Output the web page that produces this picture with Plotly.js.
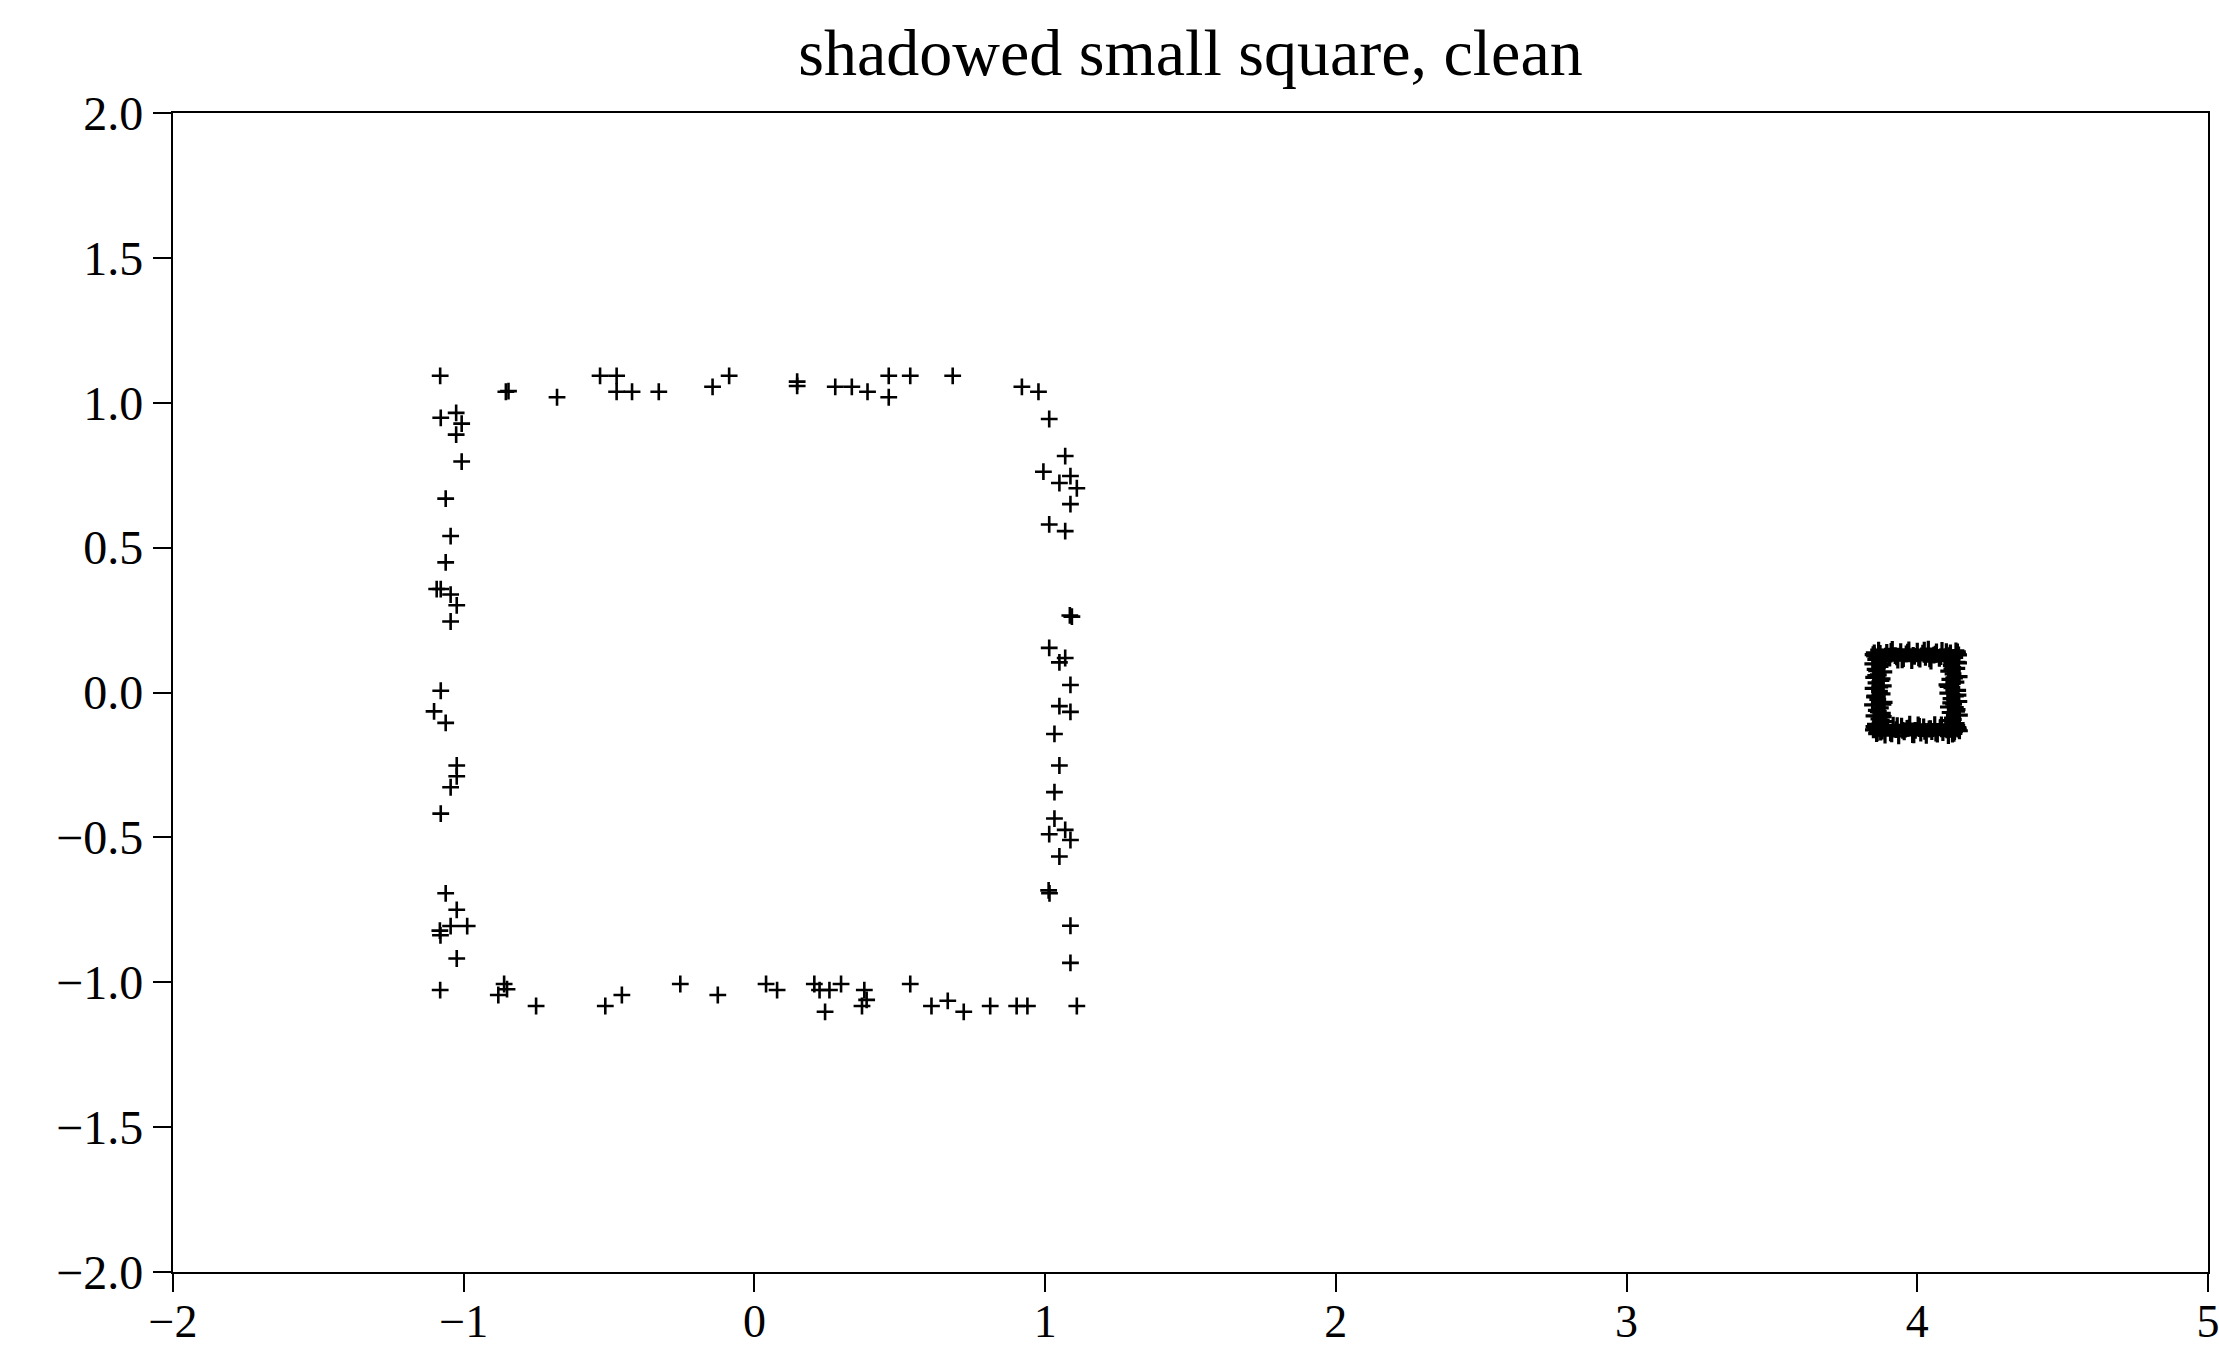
<!DOCTYPE html>
<html>
<head>
<meta charset="utf-8">
<script src="https://cdn.plot.ly/plotly-3.0.1.min.js"></script>
<style>html,body{margin:0;padding:0;background:#fff;}#chart{width:2219px;height:1352px;}</style>
</head>
<body>
<div id="chart"></div>
<script>
// Large square (sparse, noisy points)
const bigX = [
  -1.081, -0.855, -0.846, -0.679, -0.531, -0.474, -0.474, -0.421, -0.329, -0.144, -0.087,
  0.147, 0.147, 0.278, 0.335, 0.389, 0.462, 0.462, 0.536, 0.682, 0.920, 0.977,
  1.014, 1.069, 0.994, 1.049, 1.087, 1.109, 1.087, 1.014, 1.069, 1.085, 1.092, 1.014,
  1.049, 1.069, 1.087, 1.049, 1.087, 1.032, 1.049, 1.032, 1.032, 1.014, 1.069, 1.087,
  1.049, 1.012, 1.015, 1.087, 1.087, 1.109,
  0.902, 0.939, -1.081, -0.861, -0.851, -0.881, -0.751, -0.513, -0.456, -0.255, -0.126,
  0.040, 0.078, 0.206, 0.224, 0.258, 0.298, 0.243, 0.378, 0.386, 0.370, 0.536, 0.609,
  0.665, 0.720, 0.811,
  -1.079, -1.026, -1.007, -1.026, -1.007, -1.062, -1.045, -1.062, -1.093, -1.079, -1.045,
  -1.024, -1.045, -1.079, -1.102, -1.062, -1.024, -1.024, -1.045, -1.079, -1.062, -1.024,
  -1.045, -0.988, -1.082, -1.080, -1.024
];
const bigY = [
  1.093, 1.038, 1.040, 1.019, 1.093, 1.093, 1.038, 1.038, 1.038, 1.055, 1.093,
  1.073, 1.058, 1.055, 1.055, 1.038, 1.093, 1.019, 1.093, 1.093, 1.055, 1.038,
  0.944, 0.816, 0.762, 0.723, 0.747, 0.705, 0.650, 0.580, 0.557, 0.266, 0.262, 0.154,
  0.104, 0.119, 0.026, -0.047, -0.067, -0.143, -0.252, -0.344, -0.435, -0.489, -0.474, -0.509,
  -0.566, -0.683, -0.693, -0.805, -0.933, -1.082,
  -1.082, -1.082, -1.027, -1.006, -1.024, -1.044, -1.082, -1.082, -1.044, -1.006, -1.044,
  -1.006, -1.027, -1.006, -1.027, -1.027, -1.006, -1.102, -1.027, -1.061, -1.082, -1.006, -1.082,
  -1.064, -1.102, -1.082,
  0.948, 0.965, 0.928, 0.890, 0.797, 0.669, 0.540, 0.449, 0.357, 0.357, 0.338,
  0.301, 0.245, 0.006, -0.065, -0.105, -0.252, -0.289, -0.327, -0.418, -0.693, -0.750,
  -0.806, -0.806, -0.822, -0.838, -0.918
];

// Small shadowed square near (4, 0) (dense points)
const smallX = [
  3.848,3.857,3.867,3.876,3.886,3.895,3.905,3.914,3.924,3.933,3.943,3.952,3.962,3.971,3.981,3.990,
  4.000,4.009,4.019,4.028,4.038,4.047,4.057,4.066,4.076,4.085,4.095,4.104,4.114,4.123,4.133,4.142,
  3.851,3.860,3.870,3.879,3.889,3.898,3.908,3.917,3.927,3.936,3.946,3.955,3.965,3.974,3.984,3.993,
  4.003,4.012,4.022,4.031,4.041,4.050,4.060,4.069,4.079,4.088,4.098,4.107,4.117,4.126,4.136,4.145,
  3.862,3.849,3.877,3.856,3.884,3.868,3.851,3.880,3.859,3.873,3.846,3.886,3.864,3.853,3.879,
  3.870,3.848,3.883,3.858,3.875,3.850,3.866,3.885,3.855,3.872,3.847,3.881,3.861,3.869,3.852,
  4.128,4.141,4.110,4.134,4.104,4.121,4.145,4.113,4.137,4.107,4.125,4.143,4.116,4.131,4.105,
  4.139,4.119,4.102,4.133,4.112,4.144,4.123,4.108,4.136,4.117,4.142,4.106,4.129,4.114,4.138,
  3.853,3.872,3.891,3.910,3.929,3.948,3.967,3.986,4.005,4.024,4.043,4.062,4.081,4.100,4.119,4.138,
  3.855,3.874,3.893,3.912,3.931,3.950,3.969,3.988,4.007,4.026,4.045,4.064,4.083,4.102,4.121,4.140,
  3.858,3.876,3.866,3.882,3.854,3.871,3.879,3.860,3.874,3.867,3.883,3.857,
  4.109,4.124,4.135,4.115,4.140,4.106,4.128,4.119,4.137,4.111,4.131,4.122
];
const smallY = [
  0.131,0.114,0.146,0.122,0.109,0.138,0.119,0.149,0.127,0.112,0.141,0.117,0.133,0.147,0.110,0.125,
  0.143,0.115,0.136,0.121,0.150,0.108,0.129,0.140,0.118,0.145,0.124,0.111,0.137,0.120,0.144,0.130,
  -0.118,-0.142,-0.110,-0.133,-0.147,-0.121,-0.139,-0.113,-0.128,-0.150,-0.116,-0.136,-0.124,-0.109,-0.145,-0.131,
  -0.112,-0.140,-0.119,-0.148,-0.126,-0.135,-0.111,-0.144,-0.122,-0.138,-0.115,-0.149,-0.127,-0.141,-0.114,-0.132,
  -0.138,-0.129,-0.119,-0.110,-0.100,-0.091,-0.081,-0.072,-0.062,-0.053,-0.043,-0.034,-0.024,-0.015,-0.005,
  0.004,0.014,0.023,0.033,0.042,0.052,0.061,0.071,0.080,0.090,0.099,0.109,0.118,0.128,0.137,
  -0.135,-0.126,-0.116,-0.107,-0.097,-0.088,-0.078,-0.069,-0.059,-0.050,-0.040,-0.031,-0.021,-0.012,-0.002,
  0.007,0.017,0.026,0.036,0.045,0.055,0.064,0.074,0.083,0.093,0.102,0.112,0.121,0.131,0.140,
  0.126,0.135,0.117,0.142,0.123,0.113,0.139,0.128,0.120,0.146,0.116,0.132,0.124,0.141,0.110,0.134,
  -0.127,-0.137,-0.119,-0.143,-0.114,-0.131,-0.123,-0.146,-0.117,-0.134,-0.125,-0.140,-0.112,-0.129,-0.144,-0.121,
  -0.120,-0.095,-0.066,-0.040,-0.012,0.019,0.047,0.075,0.098,0.124,-0.083,0.058,
  -0.122,-0.093,-0.064,-0.036,-0.009,0.021,0.050,0.079,0.104,0.127,-0.052,0.086
];

const xTickVals = [-2, -1, 0, 1, 2, 3, 4, 5];
const xTickText = ["\u22122", "\u22121", "0", "1", "2", "3", "4", "5"];
const yTickVals = [-2.0, -1.5, -1.0, -0.5, 0.0, 0.5, 1.0, 1.5, 2.0];
const yTickText = ["\u22122.0", "\u22121.5", "\u22121.0", "\u22120.5", "0.0", "0.5", "1.0", "1.5", "2.0"];

const titleText = "shadowed small square, clean";

const FONT = "Liberation Serif, Times New Roman, serif";

const traces = [
  {x: bigX, y: bigY, type: "scatter", mode: "markers", hoverinfo: "skip",
   marker: {symbol: "cross-thin", size: 12, color: "#000", line: {color: "#000", width: 2.6}}},
  {x: smallX, y: smallY, type: "scatter", mode: "markers", hoverinfo: "skip",
   marker: {symbol: "cross-thin", size: 12, color: "#000", line: {color: "#000", width: 3.2}}}
];

const axisCommon = {
  showgrid: false,
  zeroline: false,
  showline: true,
  mirror: true,
  linecolor: "#000",
  linewidth: 2.2,
  ticks: "outside",
  ticklen: 18,
  tickwidth: 2,
  tickcolor: "#000",
  ticklabeloverflow: "allow",
  tickfont: {family: FONT, size: 48, color: "#000"}
};

const layout = {
  width: 2219,
  height: 1352,
  margin: {l: 173, r: 11, t: 113, b: 80, pad: 0},
  paper_bgcolor: "#fff",
  plot_bgcolor: "#fff",
  showlegend: false,
  font: {family: FONT, color: "#000"},
  title: {
    text: titleText,
    font: {family: FONT, size: 66, color: "#000"},
    x: 0.5, xref: "paper", xanchor: "center",
    y: 1 - 52 / 1352, yref: "container", yanchor: "middle"
  },
  xaxis: Object.assign({}, axisCommon, {
    range: [-2, 5],
    tickmode: "array",
    tickvals: xTickVals,
    ticktext: xTickText,
    ticklabelstandoff: -10,
    tickfont: {family: FONT, size: 46, color: "#000"}
  }),
  yaxis: Object.assign({}, axisCommon, {
    range: [-2, 2],
    tickmode: "array",
    tickvals: yTickVals,
    ticktext: yTickText
  })
};

Plotly.newPlot("chart", traces, layout, {displayModeBar: false, staticPlot: true});
</script>
</body>
</html>
